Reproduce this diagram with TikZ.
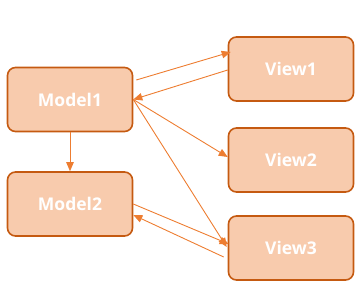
\documentclass[tikz,border=0pt]{standalone}
\usepackage{fontspec}
\setmainfont{Open Sans}
\usetikzlibrary{arrows.meta,calc}
\definecolor{boxfill}{HTML}{F8CBAD}
\definecolor{boxdraw}{HTML}{C55A11}
\definecolor{arr}{HTML}{ED7D31}
\tikzset{
  box/.style={draw=boxdraw, fill=boxfill, line width=1.6pt, rounded corners=8pt,
    minimum width=125pt, minimum height=64pt, inner sep=0pt, text=white,
    font=\fontsize{17.5}{20}\selectfont\bfseries},
  link/.style={draw=arr, line width=0.9pt, -{Triangle[length=9pt,width=7.5pt]}}
}
\begin{document}
\begin{tikzpicture}[x=1pt,y=-1pt]
\useasboundingbox (0,0) rectangle (364,299);
\node[box] (m1) at (70,99.5) {Model1};
\node[box] (m2) at (70,204) {Model2};
\node[box] (v1) at (291,69) {View1};
\node[box] (v2) at (291,160) {View2};
\node[box] (v3) at (291,248) {View3};
\draw[link] ([shift={(3,-19.5)}]m1.east) -- ([shift={(3,-17)}]v1.west);
\draw[link] ([shift={(0,1)}]v1.west) -- (m1.east);
\draw[link] (m1.east) -- ([shift={(0,-3)}]v2.west);
\draw[link] (m1.east) -- ([shift={(-1,-1)}]v3.west);
\draw[link] (m2.east) -- ([shift={(1,-4)}]v3.west);
\draw[link] ([shift={(-4,9)}]v3.west) -- ([shift={(0,11)}]m2.east);
\draw[link] (m1.south) -- (m2.north);
\end{tikzpicture}
\end{document}
